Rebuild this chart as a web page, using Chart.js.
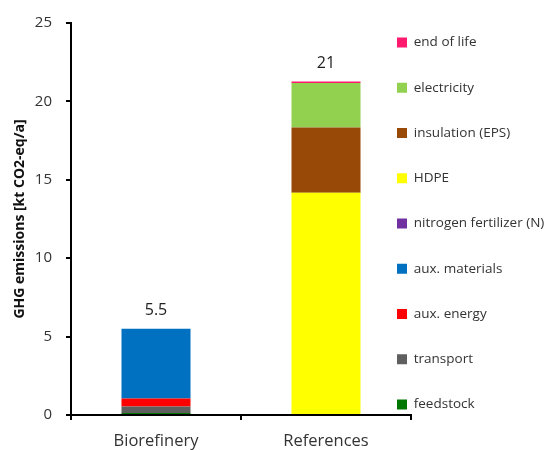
<!DOCTYPE html>
<html>
<head>
<meta charset="utf-8">
<script src="https://cdn.jsdelivr.net/npm/chart.js@4.4.1/dist/chart.umd.min.js"></script>
<style>
html,body{margin:0;padding:0;background:#fff;}
#wrap{width:550px;height:450px;}
</style>
</head>
<body>
<div id="wrap"><canvas id="c" width="550" height="450"></canvas></div>
<script>
const categories = ["Biorefinery", "References"];
const feedstock = [0.13, 0];
const transport = [0.42, 0];
const auxEnergy = [0.50, 0];
const auxMaterials = [4.45, 0];
const nitrogenFertilizer = [0, 0];
const hdpe = [0, 14.17];
const insulation = [0, 4.17];
const electricity = [0, 2.84];
const endOfLife = [0, 0.09];
const totalLabels = ["5.5", "21"];
const yTicks = [0, 5, 10, 15, 20, 25];

const FONT = "'Open Sans', 'Liberation Sans', sans-serif";

const totalsPlugin = {
  id: 'totals',
  afterDatasetsDraw(chart) {
    const ctx = chart.ctx;
    ctx.save();
    ctx.font = "16px " + FONT;
    ctx.fillStyle = "#222";
    ctx.textAlign = "center";
    ctx.textBaseline = "bottom";
    categories.forEach((c, i) => {
      let sum = 0;
      chart.data.datasets.forEach(ds => { sum += ds.data[i]; });
      const x = chart.getDatasetMeta(0).data[i].x;
      const y = chart.scales.y.getPixelForValue(sum);
      ctx.fillText(totalLabels[i], x, y - 10);
    });
    ctx.restore();
  }
};

const legendShift = {
  id: 'legendShift',
  afterInit(chart) {
    const lg = chart.legend;
    const orig = lg.fit.bind(lg);
    lg.fit = function () { orig(); this.width = 139; };
  },
  afterLayout(chart) {
    const lg = chart.legend;
    lg.left = 397 - 31.75;
    lg.right = 550;
    lg.width = lg.right - lg.left;
    lg.top -= 1.5;
    lg.bottom -= 1.5;
  }
};

const mk = (label, data, color) => ({ label, data, backgroundColor: color, borderWidth: 0 });

new Chart(document.getElementById('c'), {
  type: 'bar',
  data: {
    labels: categories,
    datasets: [
      mk('feedstock', feedstock, '#007800'),
      mk('transport', transport, '#5f5f5f'),
      mk('aux. energy', auxEnergy, '#ff0000'),
      mk('aux. materials', auxMaterials, '#0070c0'),
      mk('nitrogen fertilizer (N)', nitrogenFertilizer, '#7030a0'),
      mk('HDPE', hdpe, '#ffff00'),
      mk('insulation (EPS)', insulation, '#984807'),
      mk('electricity', electricity, '#92d050'),
      mk('end of life', endOfLife, '#ff1a6e')
    ]
  },
  options: {
    responsive: false,
    animation: false,
    devicePixelRatio: 1,
    layout: { padding: { top: 0, bottom: 0, left: 12, right: 0 } },
    datasets: { bar: { categoryPercentage: 1, barPercentage: 0.406 } },
    plugins: {
      legend: {
        position: 'right',
        reverse: true,
        labels: {
          boxWidth: 10, boxHeight: 10, padding: 31.75,
          color: '#333', font: { family: FONT, size: 13.5 }
        }
      },
      tooltip: { enabled: false }
    },
    scales: {
      x: {
        stacked: true,
        afterFit(scale) { scale.height = 35; },
        grid: { display: true, drawOnChartArea: false, drawTicks: true, tickLength: 5, color: '#000', lineWidth: 2, offset: true },
        border: { display: true, color: '#000', width: 2 },
        ticks: { color: '#333', font: { family: FONT, size: 16.5 }, padding: 11 }
      },
      y: {
        stacked: true,
        min: 0, max: 25,
        afterFit(scale) { scale.width = 59; },
        afterBuildTicks(scale) { scale.ticks = yTicks.map(v => ({ value: v })); },
        grid: { display: true, drawOnChartArea: false, drawTicks: true, tickLength: 5, color: '#000', lineWidth: 2 },
        border: { display: true, color: '#000', width: 2 },
        ticks: { color: '#333', font: { family: FONT, size: 15 }, padding: 14 },
        title: { display: true, text: 'GHG emissions [kt CO2-eq/a]', color: '#111', font: { family: FONT, size: 14, weight: 'bold' }, padding: { top: 0, bottom: 2 } }
      }
    }
  },
  plugins: [totalsPlugin, legendShift]
});
</script>
</body>
</html>
